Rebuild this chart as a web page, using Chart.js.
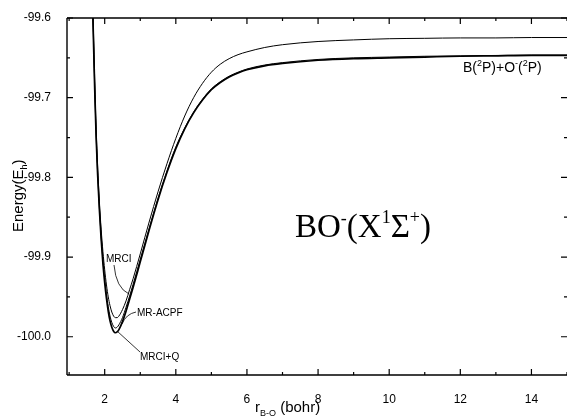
<!DOCTYPE html>
<html>
<head>
<meta charset="utf-8">
<script src="https://cdn.jsdelivr.net/npm/chart.js@4.4.0/dist/chart.umd.min.js"></script>
<style>
  html, body { margin: 0; padding: 0; background: #fff; }
  #wrap { width: 567px; height: 416px; }
</style>
</head>
<body>
<div id="wrap"><canvas id="chart" width="567" height="416"></canvas></div>
<script>
// bond length grid (bohr), shared by all three curves
var rGrid = [1.60,1.64,1.68,1.72,1.76,1.80,1.85,1.90,1.95,2.00,2.05,2.10,2.15,2.20,2.25,2.30,2.35,2.40,2.50,2.60,2.70,2.80,3.00,3.25,3.50,3.75,4.00,4.25,4.50,4.75,5.00,5.25,5.50,5.75,6.00,6.50,7.00,8.00,9.00,10.0,11.0,12.0,13.0,14.0,15.0];

var eMRCI = [-99.48,-99.54,-99.61,-99.68,-99.74,-99.785,-99.83,-99.865,-99.893,-99.916,-99.935,-99.950,-99.961,-99.969,-99.974,-99.976,-99.976,-99.974,-99.966,-99.955,-99.941,-99.927,-99.896,-99.856,-99.818,-99.783,-99.751,-99.723,-99.700,-99.682,-99.668,-99.658,-99.651,-99.646,-99.6425,-99.637,-99.6335,-99.6295,-99.6275,-99.626,-99.6255,-99.625,-99.625,-99.6245,-99.6245];

var eACPF = [-99.488,-99.548,-99.618,-99.688,-99.748,-99.793,-99.838,-99.874,-99.904,-99.927,-99.946,-99.962,-99.974,-99.982,-99.987,-99.989,-99.988,-99.985,-99.976,-99.963,-99.949,-99.934,-99.903,-99.864,-99.826,-99.792,-99.762,-99.738,-99.718,-99.702,-99.689,-99.680,-99.673,-99.668,-99.664,-99.659,-99.656,-99.652,-99.650,-99.649,-99.648,-99.6475,-99.647,-99.6465,-99.6465];

var eMRCIQ = [-99.49,-99.55,-99.62,-99.69,-99.75,-99.795,-99.84,-99.877,-99.908,-99.932,-99.952,-99.968,-99.980,-99.988,-99.993,-99.995,-99.994,-99.991,-99.981,-99.968,-99.953,-99.938,-99.906,-99.866,-99.828,-99.794,-99.764,-99.739,-99.719,-99.703,-99.690,-99.681,-99.674,-99.669,-99.665,-99.660,-99.657,-99.653,-99.651,-99.650,-99.649,-99.648,-99.6475,-99.647,-99.647];

var xTicks = [2,4,6,8,10,12,14];
var xMinorTicks = [1,3,5,7,9,11,13,15];
var yTicks = [-100.0,-99.9,-99.8,-99.7,-99.6];
var yMinorTicks = [-99.95,-99.85,-99.75,-99.65];

function pts(ys) {
  return rGrid.map(function (r, i) { return { x: r, y: ys[i] }; });
}

var SANS = '"Liberation Sans", Arial, sans-serif';
var SERIF = '"Liberation Serif", "Times New Roman", serif';

// draws a run of text pieces (normal / super / sub) left to right
function drawParts(ctx, x, y, parts) {
  parts.forEach(function (p) {
    ctx.font = p.f;
    ctx.fillText(p.t, x, y + (p.dy || 0));
    x += ctx.measureText(p.t).width;
  });
}

// frame + inward ticks on all four sides
const frame = {
  id: 'frame',
  afterDraw(c) {
    const ctx = c.ctx, a = c.chartArea, xs = c.scales.x, ys = c.scales.y;
    ctx.save();
    ctx.strokeStyle = '#000';
    ctx.lineWidth = 1.4;
    ctx.beginPath();
    ctx.moveTo(a.left, a.top); ctx.lineTo(a.right, a.top);
    ctx.moveTo(a.left, a.top); ctx.lineTo(a.left, a.bottom);
    ctx.moveTo(a.left, a.bottom); ctx.lineTo(a.right, a.bottom);
    ctx.stroke();
    ctx.lineWidth = 1.2;
    ctx.beginPath();
    function xt(v, len) {
      var px = xs.getPixelForValue(v);
      ctx.moveTo(px, a.bottom); ctx.lineTo(px, a.bottom - len);
      ctx.moveTo(px, a.top); ctx.lineTo(px, a.top + len);
    }
    function yt(v, len) {
      var py = ys.getPixelForValue(v);
      ctx.moveTo(a.left, py); ctx.lineTo(a.left + len, py);
      ctx.moveTo(a.right, py); ctx.lineTo(a.right - len, py);
    }
    xTicks.forEach(function (v) { xt(v, 6); });
    xMinorTicks.forEach(function (v) { xt(v, 3); });
    yTicks.forEach(function (v) { yt(v, 6); });
    yMinorTicks.forEach(function (v) { yt(v, 3); });
    ctx.stroke();
    ctx.restore();
  }
};

// titles and labels
const labels = {
  id: 'labels',
  afterDraw(c) {
    const ctx = c.ctx;
    ctx.save();
    ctx.fillStyle = '#000';
    ctx.textBaseline = 'alphabetic';
    ctx.textAlign = 'left';

    // x title
    drawParts(ctx, 255, 412, [
      { t: 'r', f: '15px ' + SANS },
      { t: 'B-O', f: '9px ' + SANS, dy: 4 },
      { t: ' (bohr)', f: '15px ' + SANS }
    ]);

    // y title
    ctx.save();
    ctx.translate(23, 232);
    ctx.rotate(-Math.PI / 2);
    drawParts(ctx, 0, 0, [
      { t: 'Energy(E', f: '15px ' + SANS },
      { t: 'h', f: '9px ' + SANS, dy: 4 },
      { t: ')', f: '15px ' + SANS }
    ]);
    ctx.restore();

    // asymptote label
    drawParts(ctx, 463, 72, [
      { t: 'B(', f: '14px ' + SANS },
      { t: '2', f: '9px ' + SANS, dy: -6 },
      { t: 'P)+O', f: '14px ' + SANS },
      { t: '-', f: '9px ' + SANS, dy: -6 },
      { t: '(', f: '14px ' + SANS },
      { t: '2', f: '9px ' + SANS, dy: -6 },
      { t: 'P)', f: '14px ' + SANS }
    ]);

    // state label
    drawParts(ctx, 295, 237, [
      { t: 'BO', f: '33px ' + SERIF },
      { t: '-', f: '18px ' + SERIF, dy: -13 },
      { t: '(X', f: '33px ' + SERIF },
      { t: '1', f: '18px ' + SERIF, dy: -14 },
      { t: '\u03A3', f: '33px ' + SERIF },
      { t: '+', f: '18px ' + SERIF, dy: -14 },
      { t: ')', f: '33px ' + SERIF }
    ]);

    // method labels
    ctx.font = '10px ' + SANS;
    ctx.fillText('MRCI', 106, 262);
    ctx.fillText('MR-ACPF', 137, 316);
    ctx.fillText('MRCI+Q', 140, 360);

    ctx.lineWidth = 0.8;
    ctx.beginPath();
    ctx.moveTo(114, 265); ctx.quadraticCurveTo(116, 288, 129, 294);
    ctx.moveTo(136, 312); ctx.quadraticCurveTo(126, 314, 122, 324);
    ctx.moveTo(117, 331); ctx.lineTo(140, 352);
    ctx.stroke();
    ctx.restore();
  }
};

const chart = document.querySelector('#chart').getContext('2d');

new Chart(chart, {
  type: 'scatter',
  data: {
    datasets: [
      { label: 'MRCI', data: pts(eMRCI), borderWidth: 1 },
      { label: 'MR-ACPF', data: pts(eACPF), borderWidth: 1 },
      { label: 'MRCI+Q', data: pts(eMRCIQ), borderWidth: 1.7 }
    ].map(function (d) {
      d.showLine = true;
      d.pointRadius = 0;
      d.borderColor = '#000';
      d.cubicInterpolationMode = 'monotone';
      return d;
    })
  },
  options: {
    responsive: false,
    animation: false,
    layout: { padding: { top: 18, right: 0, left: 0, bottom: 0 } },
    plugins: { legend: { display: false }, tooltip: { enabled: false } },
    scales: {
      x: {
        type: 'linear', min: 0.94, max: 15,
        grid: { display: false }, border: { display: false },
        afterBuildTicks: function (s) { s.ticks = xTicks.map(function (v) { return { value: v }; }); },
        afterFit: function (s) { s.height = 41; },
        ticks: { color: '#000', padding: 9, maxRotation: 0, font: { family: SANS, size: 12 } }
      },
      y: {
        type: 'linear', min: -100.048, max: -99.6,
        grid: { display: false }, border: { display: false },
        afterBuildTicks: function (s) { s.ticks = yTicks.map(function (v) { return { value: v }; }); },
        afterFit: function (s) { s.width = 67; },
        ticks: {
          color: '#000', padding: 8, font: { family: SANS, size: 12 },
          callback: function (v) { return v.toFixed(1); }
        }
      }
    }
  },
  plugins: [frame, labels]
});
</script>
</body>
</html>
